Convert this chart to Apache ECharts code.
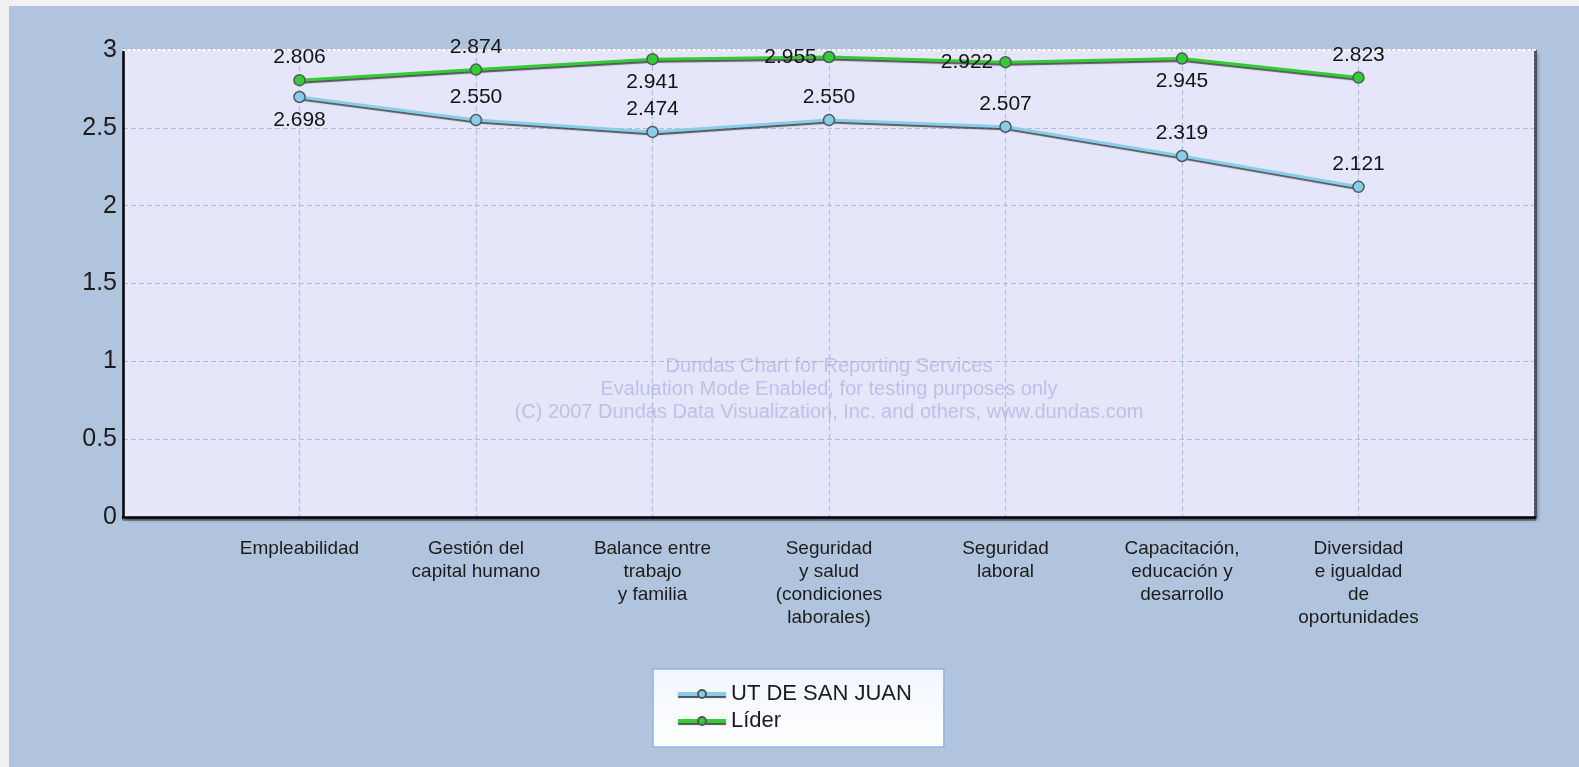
<!DOCTYPE html>
<html>
<head>
<meta charset="utf-8">
<script src="https://cdn.jsdelivr.net/npm/echarts@6/dist/echarts.min.js"></script>
<style>
  html, body { margin: 0; padding: 0; background: #f1f1f1; width: 1579px; height: 767px; overflow: hidden; }
  #chart { position: absolute; left: 9px; top: 6px; width: 1570px; height: 761px; background: #B0C4DE; }
</style>
</head>
<body>
<div id="chart"></div>
<script>
// categorías (con huecos vacíos en los extremos, como en el original)
const categories = ["", "Empleabilidad", "Gestión del\ncapital humano", "Balance entre\ntrabajo\ny familia",
  "Seguridad\ny salud\n(condiciones\nlaborales)", "Seguridad\nlaboral", "Capacitación,\neducación y\ndesarrollo",
  "Diversidad\ne igualdad\nde\noportunidades", ""];
const utSanJuan = [2.698, 2.550, 2.474, 2.550, 2.507, 2.319, 2.121];
const lider = [2.806, 2.874, 2.941, 2.955, 2.922, 2.945, 2.823];
const yTicks = [0, 0.5, 1, 1.5, 2, 2.5, 3];

// dónde va cada etiqueta de valor
const utLabelPos = ["bottom", "top", "top", "top", "top", "top", "top"];
const liderLabelPos = ["top", "top", "bottom", "left", "left", "bottom", "top"];

const FONT = "Liberation Sans, Arial, sans-serif";

function toData(vals, pos) {
  return ["-", ...vals.map((v, i) => ({ value: v, label: { position: pos[i] } })), "-"];
}

function lineSeries(name, color, vals, pos) {
  return {
    name, type: "line", data: toData(vals, pos),
    symbol: "circle", symbolSize: 11,
    itemStyle: { color, borderColor: "#505860", borderWidth: 1.5 },
    lineStyle: { color, width: 3, shadowColor: "rgba(40,40,40,0.75)", shadowOffsetY: 2, shadowOffsetX: 1, shadowBlur: 1 },
    label: { show: true, fontFamily: FONT, fontSize: 21, color: "#141414", distance: 6,
             formatter: p => p.value.toFixed(3) },
    emphasis: { disabled: true },
    z: name === "Líder" ? 3 : 2,
  };
}

const chart = echarts.init(document.getElementById("chart"));
chart.setOption({
  animation: false,
  backgroundColor: "#B0C4DE",
  textStyle: { fontFamily: FONT },
  grid: { left: 114, right: 44, top: 44, bottom: 250, show: true, backgroundColor: "#E6E6FA",
          borderWidth: 0, shadowColor: "rgba(0,0,0,0.35)", shadowOffsetX: 3, shadowOffsetY: 3, shadowBlur: 3 },
  legend: {
    orient: "vertical", left: 644, top: 663,
    data: ["UT DE SAN JUAN", "Líder"],
    itemWidth: 48, itemHeight: 10, itemGap: 5,
    padding: [14, 32, 15, 23],
    lineStyle: { width: 4, shadowColor: "rgba(40,40,40,0.8)", shadowOffsetY: 2, shadowBlur: 1 },
    backgroundColor: { type: "linear", x: 0, y: 0, x2: 0, y2: 1,
      colorStops: [{ offset: 0, color: "#f2f6fd" }, { offset: 1, color: "#ffffff" }] },
    borderColor: "#8fb4e6", borderWidth: 1.5,
    textStyle: { fontFamily: FONT, fontSize: 22, color: "#1a1a2a" },
  },
  graphic: [{
    type: "text", x: 820, y: 349, z: 1, silent: true,
    style: {
      text: "Dundas Chart for Reporting Services\nEvaluation Mode Enabled, for testing purposes only\n(C) 2007 Dundas Data Visualization, Inc. and others, www.dundas.com",
      fill: "rgba(165,165,225,0.6)", font: "20px " + FONT, align: "center", verticalAlign: "top", lineHeight: 23,
    },
  }],
  xAxis: [{
    type: "category", data: categories, boundaryGap: false,
    axisLine: { lineStyle: { color: "#000", width: 2.5, shadowColor: "rgba(0,0,0,0.4)", shadowOffsetY: 2 } },
    axisTick: { show: false },
    axisLabel: { interval: 0, margin: 20, fontFamily: FONT, fontSize: 19, lineHeight: 23, color: "#1c1c1c", align: "center" },
    splitLine: { show: true, lineStyle: { color: "#a9bfdb", type: [5, 3], width: 1.2 } },
  }, {
    type: "category", data: categories, boundaryGap: false, position: "top",
    axisLine: { onZero: false, lineStyle: { color: "#ffffff", width: 2, type: [2, 3] } },
    axisTick: { show: false }, axisLabel: { show: false }, splitLine: { show: false },
  }],
  yAxis: [{
    type: "value", min: 0, max: 3, interval: 0.5,
    axisLine: { show: true, lineStyle: { color: "#000", width: 2.5 } },
    axisTick: { show: false },
    axisLabel: { margin: 6, fontFamily: FONT, fontSize: 25, color: "#1c1c1c",
                 formatter: v => yTicks.includes(v) ? String(v) : "" },
    splitLine: { show: true, lineStyle: { color: "#a9bfdb", type: [5, 3], width: 1.2 } },
  }, {
    type: "value", min: 0, max: 3, interval: 0.5, position: "right",
    axisLine: { show: true, onZero: false, lineStyle: { color: "#4a4f58", width: 3, type: [2, 2] } },
    axisTick: { show: false }, axisLabel: { show: false }, splitLine: { show: false },
  }],
  series: [
    lineSeries("UT DE SAN JUAN", "#87CEEB", utSanJuan, utLabelPos),
    lineSeries("Líder", "#32CD32", lider, liderLabelPos),
  ],
});
</script>
</body>
</html>
